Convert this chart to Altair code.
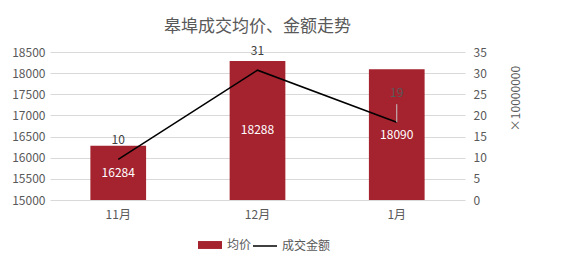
import altair as alt
import pandas as pd

months = ["11月", "12月", "1月"]
avg_price = [16284, 18288, 18090]
amount = [9.6, 30.7, 18.4]          # 成交金额 (×10000000)
amount_labels = [10, 31, 19]

FONT = "Noto Sans CJK SC"
GRAY = "#595959"
RED = "#A5222F"

df = pd.DataFrame({
    "month": months,
    "price": avg_price,
    "amount": amount,
    "amt_label": amount_labels,
    "s1": ["均价"] * 3,
    "s2": ["成交金额"] * 3,
})

x = alt.X(
    "month:N", sort=months,
    scale=alt.Scale(paddingInner=0.6, paddingOuter=0.29),
    axis=alt.Axis(title=None, labelAngle=0, domain=False, ticks=False,
                  labelPadding=9, labelFontSize=12, labelColor=GRAY, labelFont=FONT),
)

left_scale = alt.Scale(domain=[15000, 18500], nice=False, zero=False)
right_scale = alt.Scale(domain=[0, 35], nice=False)

left_axis = alt.Axis(title=None, values=list(range(15000, 18501, 500)), format="d", domain=False,
                     ticks=False, labelPadding=5, labelFontSize=12, labelColor=GRAY, labelFont=FONT,
                     grid=True, gridColor="#D9D9D9", gridWidth=1)
right_axis = alt.Axis(title="×10000000", orient="right", values=list(range(0, 36, 5)), domain=False,
                      ticks=False, grid=False, labelPadding=8, labelFontSize=12, labelColor=GRAY,
                      labelFont=FONT, titleAngle=270, titleFontSize=12, titleColor=GRAY,
                      titleFont=FONT, titleFontWeight="normal", titlePadding=36, titleY=46)

base = alt.Chart(df)

bars = base.mark_bar().encode(
    x=x,
    y=alt.Y("price:Q", scale=left_scale, axis=left_axis),
    y2=alt.datum(15000),
    fill=alt.Fill("s1:N", scale=alt.Scale(domain=["均价"], range=[RED]),
                  legend=alt.Legend(title=None, orient="none", legendX=148, legendY=181,
                                    symbolType="M-1,-0.33H1V0.33H-1Z", symbolSize=576,
                                    symbolStrokeWidth=0, labelFontSize=12, labelColor=GRAY,
                                    labelFont=FONT, labelOffset=5)),
)

bar_text = base.transform_calculate(mid="(datum.price + 15000) / 2").mark_text(
    color="white", fontSize=12, font=FONT, baseline="middle"
).encode(
    x=x,
    y=alt.Y("mid:Q", scale=left_scale, axis=left_axis),
    text=alt.Text("price:Q", format="d"),
)

left = alt.layer(bars, bar_text)

line = base.mark_line(strokeWidth=1.5).encode(
    x=x,
    y=alt.Y("amount:Q", scale=right_scale, axis=right_axis),
    stroke=alt.Stroke("s2:N", scale=alt.Scale(domain=["成交金额"], range=["#000000"]),
                      legend=alt.Legend(title=None, orient="none", legendX=202, legendY=181,
                                        symbolType="stroke", symbolSize=576, symbolStrokeWidth=1.5,
                                        labelFontSize=12, labelColor=GRAY, labelFont=FONT,
                                        labelOffset=4)),
)

line_text = base.transform_filter("datum.month != '1月'").mark_text(
    color="#404040", fontSize=12, font=FONT, baseline="middle", dy=-19
).encode(
    x=x,
    y=alt.Y("amount:Q", scale=right_scale, axis=right_axis),
    text=alt.Text("amt_label:Q"),
)

line_text_last = base.transform_filter("datum.month == '1月'").mark_text(
    color=GRAY, fontSize=12, font=FONT, baseline="middle", dy=-29
).encode(
    x=x,
    y=alt.Y("amount:Q", scale=right_scale, axis=right_axis),
    text=alt.Text("amt_label:Q"),
)

leader = base.transform_filter("datum.month == '1月'").mark_rule(
    color="#C8C8C8", strokeWidth=1, y2Offset=-18
).encode(
    x=x,
    y=alt.Y("amount:Q", scale=right_scale, axis=right_axis),
    y2=alt.Y2("amount:Q"),
)

right = alt.layer(line, leader, line_text, line_text_last)

chart = alt.layer(left, right).resolve_scale(y="independent").properties(
    width=415,
    height=148,
    autosize=alt.AutoSizeParams(type="none"),
    padding={"left": 50, "top": 52, "right": 107, "bottom": 66},
    background="white",
    title=alt.TitleParams("皋埠成交均价、金额走势", fontSize=17, color=GRAY, font=FONT,
                          fontWeight="normal", anchor="middle", offset=9),
).configure_view(stroke=None)

chart.save("out.html", embed_options={"renderer": "svg", "actions": False})
